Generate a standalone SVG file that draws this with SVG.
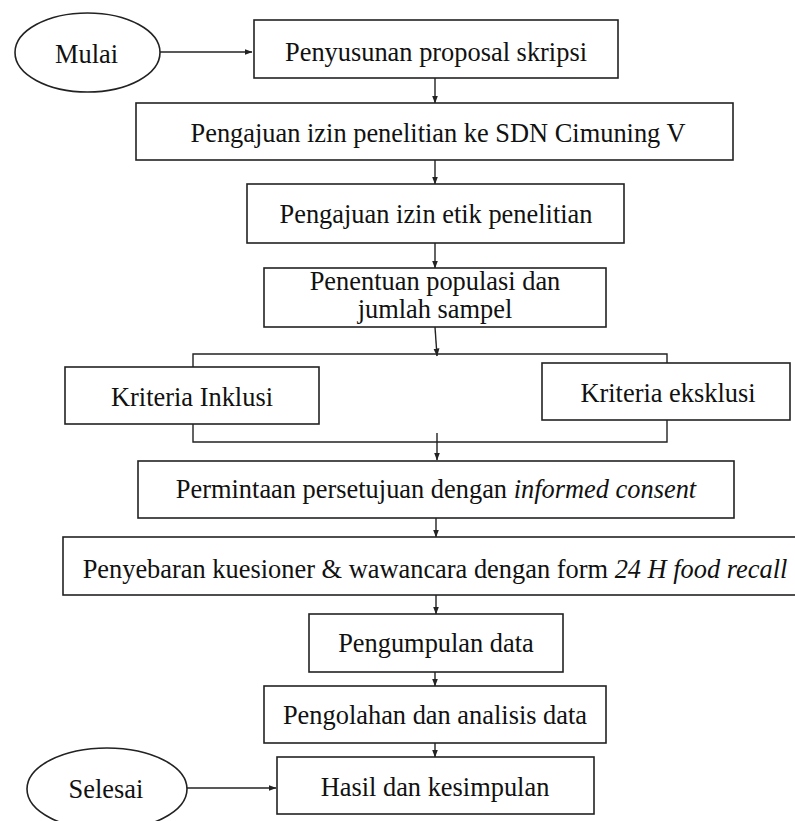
<svg xmlns="http://www.w3.org/2000/svg" width="795" height="821" viewBox="0 0 795 821">
<style>
.box{fill:#fff;stroke:#222;stroke-width:1.6}
.t{font-family:"Liberation Serif","Times New Roman",serif;font-size:26.4px;fill:#111;text-anchor:middle}
.i{font-style:italic}
.c{fill:none;stroke:#222;stroke-width:1.4}
</style>
<defs>
<marker id="ah" markerUnits="userSpaceOnUse" markerWidth="8" markerHeight="8" viewBox="0 0 8 8" refX="7.5" refY="4" orient="auto">
<path d="M0,1 L8,4 L0,7 Z" fill="#222"/>
</marker>
</defs>
<rect width="795" height="821" fill="#fff"/>
<g id="connectors">
<line class="c" x1="160" y1="52" x2="252" y2="52" marker-end="url(#ah)"/>
<line class="c" x1="435" y1="78" x2="435" y2="103" marker-end="url(#ah)"/>
<line class="c" x1="435" y1="160" x2="435" y2="184" marker-end="url(#ah)"/>
<line class="c" x1="435" y1="243" x2="435" y2="268" marker-end="url(#ah)"/>
<line class="c" x1="435" y1="327" x2="437" y2="356" marker-end="url(#ah)"/>
<polyline class="c" points="193,367 193,354 667,354 667,363"/>
<polyline class="c" points="193,424 193,442 667,442 667,420"/>
<line class="c" x1="437" y1="433" x2="437" y2="460" marker-end="url(#ah)"/>
<line class="c" x1="436" y1="518" x2="436" y2="537" marker-end="url(#ah)"/>
<line class="c" x1="436" y1="595" x2="436" y2="614" marker-end="url(#ah)"/>
<line class="c" x1="435" y1="672" x2="435" y2="686" marker-end="url(#ah)"/>
<line class="c" x1="435" y1="743" x2="435" y2="757" marker-end="url(#ah)"/>
<line class="c" x1="187" y1="788" x2="276" y2="788" marker-end="url(#ah)"/>
</g>
<g id="mulai">
<ellipse class="box" cx="87.5" cy="52.5" rx="72.5" ry="39.5"/>
<text class="t" x="86.5" y="63">Mulai</text>
</g>
<g id="n1">
<rect class="box" x="254" y="20" width="364" height="58"/>
<text class="t" x="436" y="61">Penyusunan proposal skripsi</text>
</g>
<g id="n2">
<rect class="box" x="136" y="103" width="597" height="57"/>
<text class="t" x="438" y="142">Pengajuan izin penelitian ke SDN Cimuning V</text>
</g>
<g id="n3">
<rect class="box" x="247" y="184" width="377" height="59"/>
<text class="t" x="436" y="223">Pengajuan izin etik penelitian</text>
</g>
<g id="n4">
<rect class="box" x="264" y="268" width="342" height="59"/>
<text class="t" x="435" y="290">Penentuan populasi dan</text>
<text class="t" x="435" y="318">jumlah sampel</text>
</g>
<g id="inklusi">
<rect class="box" x="65" y="367" width="254" height="57"/>
<text class="t" x="192" y="406">Kriteria Inklusi</text>
</g>
<g id="eksklusi">
<rect class="box" x="542" y="363" width="248" height="57"/>
<text class="t" x="668" y="402">Kriteria eksklusi</text>
</g>
<g id="n5">
<rect class="box" x="138" y="461" width="596" height="57"/>
<text class="t" x="436" y="498">Permintaan persetujuan dengan <tspan class="i">informed consent</tspan></text>
</g>
<g id="n6">
<rect class="box" x="63" y="537" width="745" height="58"/>
<text class="t" x="435" y="578">Penyebaran kuesioner &amp; wawancara dengan form <tspan class="i">24 H food recall</tspan></text>
</g>
<g id="n7">
<rect class="box" x="309" y="614" width="254" height="58"/>
<text class="t" x="436" y="652">Pengumpulan data</text>
</g>
<g id="n8">
<rect class="box" x="264" y="686" width="342" height="57"/>
<text class="t" x="435" y="724">Pengolahan dan analisis data</text>
</g>
<g id="n9">
<rect class="box" x="277" y="757" width="317" height="57"/>
<text class="t" x="435" y="796">Hasil dan kesimpulan</text>
</g>
<g id="selesai">
<ellipse class="box" cx="107" cy="789" rx="80" ry="41"/>
<text class="t" x="106" y="798">Selesai</text>
</g>
</svg>
